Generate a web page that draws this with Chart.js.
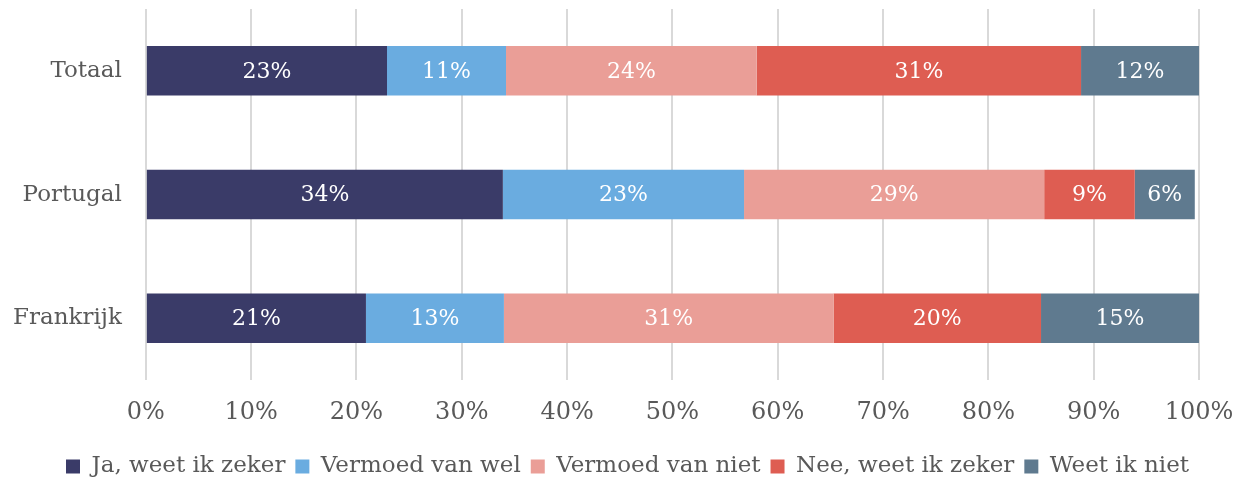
<!DOCTYPE html>
<html>
<head>
<meta charset="utf-8">
<script src="https://cdn.jsdelivr.net/npm/chart.js@4"></script>
<style>
  html, body { margin: 0; padding: 0; background: #fff; }
  #wrap { width: 1241px; height: 479px; }
</style>
</head>
<body>
<div id="wrap"><canvas id="myChart" width="1241" height="479"></canvas></div>
<script>
var landen = ['Totaal', 'Portugal', 'Frankrijk'];
var reeksen = ['Ja, weet ik zeker', 'Vermoed van wel', 'Vermoed van niet', 'Nee, weet ik zeker', 'Weet ik niet'];
var jaZeker = [22.9, 33.9, 20.9];
var vermoedWel = [11.3, 22.9, 13.1];
var vermoedNiet = [23.8, 28.5, 31.3];
var neeZeker = [30.8, 8.6, 19.7];
var weetNiet = [11.6, 5.7, 15.0];
var kleuren = ['#3a3b68', '#6aace0', '#ea9e97', '#de5d52', '#5f7a8f'];

var fontFam = "'DejaVu Serif', serif";
var tekstKleur = '#595959';

// labels in de balken
var balkLabels = {
  id: 'balkLabels',
  afterDatasetsDraw: function(chart) {
    var ctx = chart.ctx;
    ctx.save();
    ctx.fillStyle = '#ffffff';
    ctx.font = '22px ' + fontFam;
    ctx.textAlign = 'center';
    ctx.textBaseline = 'middle';
    chart.data.datasets.forEach(function(ds, i) {
      var meta = chart.getDatasetMeta(i);
      meta.data.forEach(function(bar, j) {
        var links = Math.max(bar.base, chart.chartArea.left);
        var rechts = Math.min(bar.x, chart.chartArea.right);
        ctx.fillText(Math.round(ds.data[j]) + '%', (links + rechts) / 2, bar.y + 1);
      });
    });
    ctx.restore();
  }
};

var reeksData = [jaZeker, vermoedWel, vermoedNiet, neeZeker, weetNiet];
var datasets = reeksen.map(function(naam, i) {
  return {
    label: naam,
    data: reeksData[i],
    backgroundColor: kleuren[i],
    borderWidth: 0,
    barPercentage: 0.5,
    categoryPercentage: 0.8
  };
});

var myChart = new Chart(document.getElementById('myChart').getContext('2d'), {
  type: 'bar',
  data: { labels: landen, datasets: datasets },
  options: {
    indexAxis: 'y',
    responsive: false,
    animation: false,
    layout: { padding: { top: 9, right: 42, left: 1, bottom: -9 } },
    scales: {
      x: {
        stacked: true,
        min: 0,
        max: 100,
        grid: { color: '#d9d9d9', lineWidth: 2, drawTicks: false },
        border: { display: false },
        ticks: {
          stepSize: 10,
          padding: 18,
          color: tekstKleur,
          font: { family: fontFam, size: 24 },
          callback: function(v) { return v + '%'; }
        },
        afterFit: function(s) { s.paddingLeft = 0; s.paddingRight = 0; }
      },
      y: {
        stacked: true,
        grid: { display: false, drawTicks: true, tickLength: 12 },
        border: { display: false },
        ticks: {
          padding: 12,
          color: tekstKleur,
          font: { family: fontFam, size: 23 }
        },
        afterFit: function(s) { s.paddingTop = 0; s.paddingBottom = 0; }
      }
    },
    plugins: {
      legend: {
        position: 'bottom',
        align: 'end',
        labels: {
          color: tekstKleur,
          font: { family: fontFam, size: 23 },
          boxWidth: 14,
          boxHeight: 14,
          padding: 10
        }
      },
      tooltip: { enabled: false }
    }
  },
  plugins: [balkLabels]
});
</script>
</body>
</html>
